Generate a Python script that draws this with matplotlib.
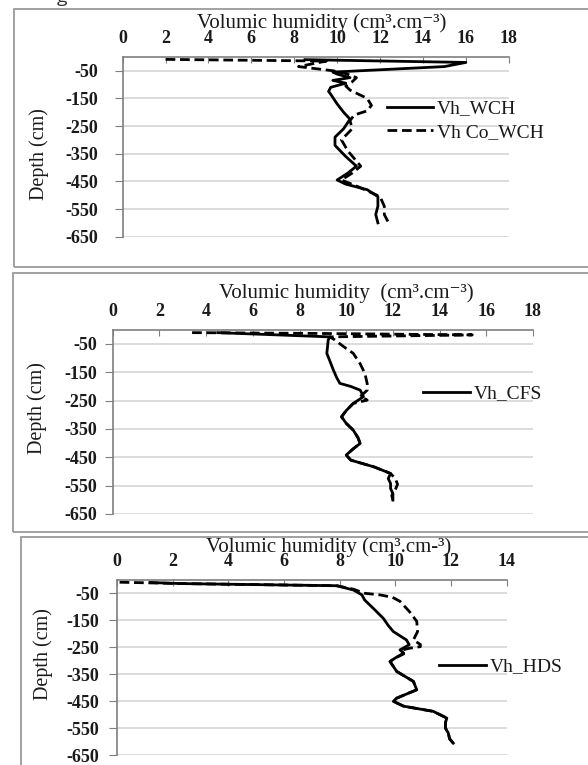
import matplotlib
matplotlib.use('Agg')
import matplotlib.pyplot as plt
from matplotlib.patches import Rectangle
from matplotlib.lines import Line2D

plt.rcParams['font.family'] = ['Liberation Serif', 'DejaVu Serif']
plt.rcParams['axes.unicode_minus'] = False

# ---- data (depth in cm, volumic humidity) ----
depth_wch = [-10, -20, -35, -55, -62, -75, -85, -95, -110, -125, -135, -170, -200, -225,
             -260, -290, -320, -360, -395, -420, -445, -460, -480, -505, -540, -570, -600]
vh_wch = [8.5, 16.0, 15.0, 9.8, 10.0, 10.6, 9.8, 10.4, 9.7, 9.6, 9.7, 10.0, 10.3, 10.6,
          10.3, 9.9, 9.9, 10.4, 10.9, 10.5, 10.0, 10.4, 11.4, 11.9, 11.9, 11.8, 11.9]

depth_co_wch = [-9, -15, -35, -50, -60, -75, -90, -105, -120, -150, -175, -195, -210, -230,
                -260, -300, -340, -395, -420, -445, -470, -505, -540, -570, -600]
vh_co_wch = [2.0, 9.5, 8.2, 9.8, 10.4, 10.9, 10.7, 10.4, 10.6, 11.4, 11.6, 11.4, 10.8, 10.6,
             10.7, 10.2, 10.5, 11.1, 10.7, 10.2, 11.0, 12.0, 12.2, 12.2, 12.4]

depth_cfs = [-10, -25, -36, -60, -83, -110, -142, -170, -189, -200, -213, -236, -260, -285,
             -307, -330, -354, -380, -401, -420, -442, -460, -484, -507, -525, -542, -560,
             -578, -601]
vh_cfs = [4.5, 9.3, 9.23, 9.2, 9.17, 9.3, 9.45, 9.6, 9.73, 10.2, 10.6, 10.74, 10.3, 10.0,
          9.8, 10.0, 10.3, 10.5, 10.6, 10.3, 10.0, 10.2, 11.2, 11.9, 11.8, 11.9, 11.9,
          12.0, 12.0]

depth_co_cfs = [-10, -13, -18, -25, -35, -60, -83, -120, -154, -190, -213, -236, -248, -260,
                -285, -307, -330, -354, -380, -401, -420, -442, -460, -484, -507, -525, -545,
                -565, -585, -600]
vh_co_cfs = [3.4, 9.0, 15.4, 9.3, 9.5, 9.9, 10.3, 10.6, 10.8, 10.9, 10.9, 10.6, 10.9, 10.3,
             10.0, 9.8, 10.0, 10.3, 10.5, 10.6, 10.3, 10.0, 10.2, 11.2, 11.9, 12.1, 12.2,
             12.1, 11.95, 12.0]

depth_hds = [-10, -14, -22, -38, -56, -75, -110, -143, -170, -192, -210, -223, -241, -260,
             -272, -290, -303, -340, -377, -408, -439, -451, -469, -488, -513, -530, -550,
             -568, -590, -606]
vh_hds = [1.2, 2.3, 7.9, 8.5, 8.8, 8.9, 9.25, 9.57, 9.75, 9.93, 10.2, 10.4, 10.5, 10.17,
          10.3, 10.0, 9.81, 10.05, 10.65, 10.77, 10.05, 9.93, 10.3, 11.36, 11.85, 11.8, 11.8,
          11.9, 11.95, 12.08]

depth_co_hds = [-9, -14, -22, -35, -50, -56, -65, -80, -117, -154, -192, -223, -240, -248,
                -254, -262, -275, -290, -303, -340, -377, -408, -439, -451, -469, -488, -513,
                -530, -550, -568, -590, -606]
vh_co_hds = [0.1, 2.3, 7.9, 8.5, 8.9, 9.45, 9.9, 10.17, 10.5, 10.77, 10.8, 10.65, 10.9, 10.9,
             10.5, 10.2, 10.3, 10.0, 9.81, 10.05, 10.65, 10.77, 10.05, 9.93, 10.3, 11.36,
             11.85, 11.8, 11.8, 11.9, 11.95, 12.08]

depth_ticks = [-50, -150, -250, -350, -450, -550, -650]

W, H = 588, 765
fig = plt.figure(figsize=(W / 100, H / 100), dpi=100)

SPINE = '#7f7f7f'
GRID = '#d9d9d9'
DASH = (0, (3.5, 1.7))
TXT = '#1a1a1a'


def px_axes(left, right, top, bottom):
    return fig.add_axes([left / W, 1 - bottom / H, (right - left) / W, (bottom - top) / H])


def panel_box(left, top, bottom):
    fig.add_artist(Rectangle((left / W, 1 - bottom / H), (W + 20 - left) / W, (bottom - top) / H,
                             transform=fig.transFigure, facecolor='none',
                             edgecolor='#9a9a9a', lw=1.3))


def style(ax, xmax, ypad, title, title_xy, ylab_xy):
    ax.set_xlim(0, xmax)
    ax.set_ylim(-650, 0)
    ax.set_xticks(range(0, xmax + 1, 2))
    ax.set_yticks(depth_ticks)
    ax.xaxis.tick_top()
    ax.tick_params(axis='x', direction='in', length=4, color=SPINE, pad=7, labelsize=13,
                   labelcolor=TXT)
    ax.tick_params(axis='y', direction='out', length=5.5, color=SPINE, pad=ypad, labelsize=13,
                   labelcolor=TXT)
    for lab in ax.get_xticklabels() + ax.get_yticklabels():
        lab.set_fontweight('bold')
    for s in ['right', 'bottom']:
        ax.spines[s].set_visible(False)
    for s in ['top', 'left']:
        ax.spines[s].set_color(SPINE)
        ax.spines[s].set_linewidth(1.2)
    ax.yaxis.grid(True, color=GRID, lw=1.3)
    ax.set_axisbelow(True)
    ax.text(title_xy[0], title_xy[1], title, transform=ax.transAxes, ha='center',
            va='center', fontsize=15, color=TXT)
    ax.text(ylab_xy[0], ylab_xy[1], 'Depth (cm)', transform=ax.transAxes, ha='center',
            va='center', rotation=90, fontsize=14.5, color=TXT)


def add_legend(ax, handles, labels, x, y):
    leg = ax.legend(handles, labels, loc='upper left', bbox_to_anchor=(x / W, 1 - y / H),
                    bbox_transform=fig.transFigure, frameon=False, borderpad=0,
                    borderaxespad=0, handlelength=2.4, handletextpad=0.2, labelspacing=0.3,
                    fontsize=14)
    for t in leg.get_texts():
        t.set_color(TXT)


# tiny cut-off caption letter at the top edge
fig.text(57 / W, 1 - 2 / H, 'g', fontsize=14, family='Open Sans', va='baseline', color='#333333')

# ---- panel 1 ----
panel_box(14, 9.3, 266.7)
ax1 = px_axes(122.7, 508.7, 56.9, 236.7)
ax1.plot(vh_wch, depth_wch, color='black', lw=2)
ax1.plot(vh_co_wch, depth_co_wch, color='black', lw=2, ls=DASH)
style(ax1, 18, 12, 'Volumic humidity (cm³.cm⁻³)', (0.516, 1.187), (-0.217, 0.46))
add_legend(ax1,
           [Line2D([], [], color='black', lw=2), Line2D([], [], color='black', lw=2, ls=DASH)],
           ['Vh_WCH', 'Vh Co_WCH'], 386.7, 100)

# ---- panel 2 ----
panel_box(12.7, 272.7, 532)
ax2 = px_axes(112.7, 533, 329.8, 514)
ax2.plot(vh_cfs, depth_cfs, color='black', lw=2)
ax2.plot(vh_co_cfs, depth_co_cfs, color='black', lw=2, ls=DASH)
style(ax2, 18, 6, 'Volumic humidity  (cm³.cm⁻³)', (0.555, 1.197), (-0.179, 0.575))
add_legend(ax2, [Line2D([], [], color='black', lw=2)], ['Vh_CFS'], 423, 385)

# ---- panel 3 ----
panel_box(20.7, 536.7, 800)
ax3 = px_axes(116.8, 506.7, 579.8, 755)
ax3.plot(vh_hds, depth_hds, color='black', lw=2)
ax3.plot(vh_co_hds, depth_co_hds, color='black', lw=2, ls=DASH)
style(ax3, 14, 7.5, 'Volumic humidity (cm³.cm-³)', (0.544, 1.185), (-0.189, 0.576))
add_legend(ax3, [Line2D([], [], color='black', lw=2)], ['Vh_HDS'], 439.3, 658)

fig.savefig('out.png', dpi=100)
